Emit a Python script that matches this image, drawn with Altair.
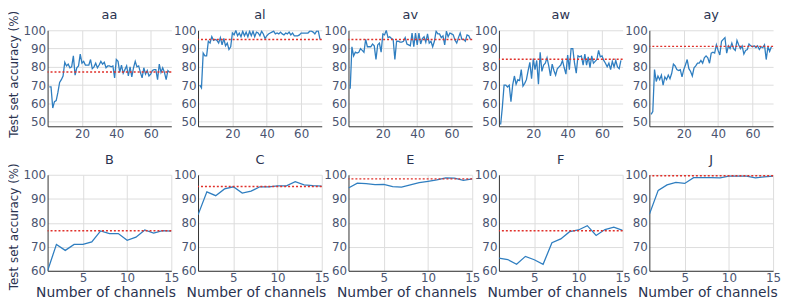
import altair as alt
import pandas as pd

# ---- data ----
top_names = ["aa", "al", "av", "aw", "ay"]
top_refs = [77.2, 95.0, 95.0, 84.2, 91.2]
aa = [69, 69, 57.5, 61, 61.5, 66, 71.5, 73, 75, 82.5, 80.5, 81.5, 79.5, 80, 86, 75.5, 79.5, 80.5, 87, 82,
      83, 81, 81, 81, 84, 79, 80, 82, 79.5, 81, 83, 81.5, 82.5, 79.5, 80.5, 80.5, 80, 80.5, 74, 84,
      83, 77, 81, 76.5, 78.5, 80.5, 75, 80, 74.5, 79.5, 83, 80, 80.5, 77, 74, 79.5, 76, 78, 75, 76,
      78, 78.5, 78.5, 73, 81.5, 77, 79.5, 77, 73, 78, 77]
al = [70, 68.5, 87.5, 86, 86, 94, 93, 96.5, 94.5, 95, 94.5, 93, 96, 92, 95.5, 91.5, 93, 89.5, 91, 98.5,
      97.5, 100, 97, 98.5, 96.5, 99.5, 97, 99, 96.5, 99.5, 97, 99.5, 96.5, 99, 98.5, 97, 99.5, 98, 95.5, 97,
      98, 98.5, 99, 99.5, 98, 98.5, 98, 99, 98, 97.5, 98.5, 98, 99, 97.5, 98.5, 97, 97, 97, 97.5, 98.5,
      98.5, 98.5, 98.5, 98.5, 99.5, 99.5, 99, 98, 99.5, 99.5, 95]
av = [68, 91, 86, 88, 87.5, 88, 90, 89, 88, 95, 91, 91, 91, 92.5, 91.5, 84, 92, 93, 88, 98,
      97.5, 100, 96, 96.5, 95.5, 95, 84, 94, 94, 93.5, 93.5, 94, 96, 92.5, 92, 91.5, 98.5, 91, 98.5, 92,
      98.5, 92.5, 95.5, 96.5, 93.5, 98, 93, 94, 91, 94, 99.5, 98, 98, 96, 97, 92, 99.5, 96.5, 98.5, 98,
      97.5, 94.5, 93, 96, 98.5, 95, 95, 94, 97.5, 97, 95]
aw = [48.5, 58, 70, 70, 69, 70, 61, 70, 75, 70.5, 73, 72.5, 78.5, 69.5, 71, 73, 78, 82.5, 73.5, 84.5,
      78.5, 83.5, 70.5, 88, 77.5, 81, 82, 85, 80.5, 75, 81.5, 78, 75.5, 79, 80, 81, 83.5, 79.5, 76, 86.5,
      78.5, 90, 90, 82, 76.5, 86, 85.5, 86, 81, 87, 81, 85.5, 79.5, 86, 82, 83, 84, 89, 85.5, 86,
      83.5, 82, 80, 82, 78.5, 83, 80, 83.5, 80, 79, 83.5]
ay = [54, 55.5, 78.5, 72, 75, 73, 75.5, 70, 74.5, 73, 75.5, 73.5, 76.5, 81.5, 80.5, 78.5, 78, 78.5, 74.5, 78.5,
      81, 84, 79, 77.5, 75, 79.5, 80.5, 82, 82, 83.5, 82, 85, 86, 85, 82, 87.5, 88, 87.5, 92, 89,
      86.5, 94, 95, 96, 87.5, 91.5, 90, 93, 90, 89, 94.5, 92, 90, 91.5, 87, 89, 89.5, 92.5, 91.5, 91,
      91.5, 90.5, 91.5, 89.5, 91, 90.5, 92, 84, 91, 88.5, 91]
top_series = [aa, al, av, aw, ay]

bot_names = ["B", "C", "E", "F", "J"]
bot_refs = [76.7, 95.1, 98.3, 76.7, 99.6]
B = [60, 71, 68.5, 71, 71, 72, 76.6, 75.5, 75.5, 72.7, 74, 77, 75.7, 76.7, 76.5]
C = [83.3, 92.9, 91.3, 94.1, 95, 92.4, 93.2, 95, 95, 95.4, 95.4, 97.1, 95.8, 95.5, 95.3]
E = [94.5, 96.5, 96.3, 95.9, 96, 95.1, 94.9, 95.8, 96.7, 97.3, 97.9, 98.7, 98.6, 97.7, 98.3]
F = [65.3, 64.7, 62.7, 66, 64.6, 62.7, 71.7, 73.3, 76.3, 77, 78.8, 74.7, 77.2, 78.2, 76.8]
J = [83.5, 93.5, 95.8, 96.8, 96.4, 98.8, 98.8, 98.8, 98.7, 99.4, 99.4, 99.4, 98.7, 99.1, 99.4]
bot_series = [B, C, E, F, J]

top_xticks = [20, 40, 60]
top_yticks = [50, 60, 70, 80, 90, 100]
bot_xticks = [5, 10, 15]
bot_yticks = [60, 70, 80, 90, 100]
ytitle_text = "Test set accuracy (%)"
xtitle_text = "Number of channels"

BLUE = "#2f7ec0"
RED = "#e0302a"
TXT = "#2a3350"
W, H = 125, 97
FONT = "DejaVu Sans"


def xaxis(values, title):
    kw = dict(values=values, labelOverlap=False, labelFlush=False)
    if title:
        return alt.Axis(title=title, titleX=W / 2 - 4, titleFontSize=14, **kw)
    return alt.Axis(title=None, **kw)


def yaxis(values):
    return alt.Axis(values=values, title=None, labelOverlap=False, labelFlush=False)


def panel(name, ys, ref, xdom, ydom, xticks, yticks, xtitle):
    df = pd.DataFrame({"x": list(range(1, len(ys) + 1)), "y": ys})
    xs = alt.Scale(domain=xdom, nice=False, zero=False)
    yscale = alt.Scale(domain=ydom, nice=False, zero=False)
    line = alt.Chart(df).mark_line(color=BLUE, strokeWidth=1.3, clip=True).encode(
        x=alt.X("x:Q", scale=xs, axis=xaxis(xticks, xtitle)),
        y=alt.Y("y:Q", scale=yscale, axis=yaxis(yticks)),
    )
    rule = alt.Chart(pd.DataFrame({"r": [ref]})).mark_rule(
        color=RED, strokeWidth=1.5, strokeDash=[2, 2]
    ).encode(y=alt.Y("r:Q", scale=yscale, axis=yaxis(yticks)))
    return alt.layer(line, rule).properties(
        width=W, height=H,
        title=alt.TitleParams(name, fontSize=13, fontWeight="normal", color=TXT,
                              offset=2, font=FONT, frame="group"),
    )


def row_title():
    return alt.TitleParams(ytitle_text, orient="left", anchor="middle", fontSize=12,
                           fontWeight="normal", color=TXT, font=FONT, offset=2)


top = [panel(n, s, r, [0, 72], [47.5, 100], top_xticks, top_yticks, None)
       for n, s, r in zip(top_names, top_series, top_refs)]
bot = [panel(n, s, r, [1, 15], [60, 100], bot_xticks, bot_yticks, xtitle_text)
       for n, s, r in zip(bot_names, bot_series, bot_refs)]

row1 = alt.hconcat(*top, spacing=27, bounds="flush", title=row_title())
row2 = alt.hconcat(*bot, spacing=27, bounds="flush", title=row_title())

chart = alt.vconcat(row1, row2, spacing=15).properties(padding=0).configure_view(
    stroke=None
).configure_axis(
    grid=True, gridColor="#dddddd", gridWidth=1,
    domainColor="#333333", domainWidth=1,
    ticks=False, labelPadding=2,
    labelFont=FONT, labelFontSize=12, labelColor="#4a5470",
    titleFont=FONT, titleFontSize=14, titleFontWeight="normal", titleColor=TXT,
    titlePadding=2,
)

chart.save("out.html", embed_options={"renderer": "svg", "actions": False})
